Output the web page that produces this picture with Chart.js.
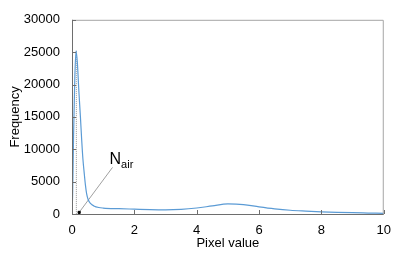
<!DOCTYPE html>
<html><head><meta charset="utf-8">
<script src="https://cdn.jsdelivr.net/npm/chart.js@4/dist/chart.umd.min.js"></script>
<style>html,body{margin:0;padding:0;background:#fff}</style>
</head><body><canvas id="c" width="400" height="261"></canvas>
<script>
const pixelValues = [0,0.02,0.05,0.09,0.13,0.17,0.22,0.27,0.31,0.35,0.39,0.43,0.47,0.52,0.6,0.7,0.86,1.0,1.5,2,2.5,3,3.5,4,4.5,5,5.5,6,6.5,7,7.5,8,8.5,9,9.5,10];
const frequency = [0,3000,12000,21000,25200,23500,19000,15000,11500,8500,6400,4500,3100,2200,1600,1250,1000,920,820,750,680,650,720,930,1250,1550,1450,1100,800,580,450,340,260,200,150,100];
const xTicks = [0,2,4,6,8,10];
const yTicks = [0,5000,10000,15000,20000,25000,30000];
const peakX = 0.14, peakY = 25200;
const nairPoint = [0.23, 250];
const nairLineEnd = [1.3, 7200];
const nairLabel = ['N','air'];

const font = "'Liberation Sans', Arial, sans-serif";

const decor = {
  id:'decor',
  afterDraw(chart){
    const {ctx, chartArea:a, scales:{x,y}} = chart;
    ctx.save();
    ctx.strokeStyle = '#a6a6a6'; ctx.lineWidth = 1;
    ctx.beginPath(); ctx.moveTo(a.left, a.top+0.5); ctx.lineTo(a.right-0.5, a.top+0.5); ctx.lineTo(a.right-0.5, a.bottom); ctx.stroke();
    ctx.strokeStyle = '#6e6e6e';
    ctx.beginPath(); ctx.moveTo(a.left+0.5, a.top); ctx.lineTo(a.left+0.5, a.bottom+0.5); ctx.lineTo(a.right, a.bottom+0.5); ctx.stroke();
    ctx.beginPath();
    yTicks.forEach(v=>{const py=Math.round(y.getPixelForValue(v))+0.5; ctx.moveTo(a.left, py); ctx.lineTo(a.left+4, py);});
    xTicks.forEach(v=>{const px=Math.round(x.getPixelForValue(v))+0.5; ctx.moveTo(px, a.bottom); ctx.lineTo(px, a.bottom-4);});
    ctx.stroke();
    const tx = x.getPixelForValue(nairLineEnd[0]) - 3;
    const ty = y.getPixelForValue(nairLineEnd[1]) - 3;
    ctx.fillStyle = '#000';
    ctx.font = '16px ' + font;
    ctx.textBaseline = 'alphabetic';
    ctx.fillText(nairLabel[0], tx, ty);
    const w = ctx.measureText(nairLabel[0]).width;
    ctx.font = '11px ' + font;
    ctx.fillText(nairLabel[1], tx + w, ty + 4);
    ctx.restore();
  }
};

new Chart(document.getElementById('c'), {
  type:'line',
  data:{datasets:[
    {data: pixelValues.map((v,i)=>({x:v,y:frequency[i]})), borderColor:'#5b9bd5', borderWidth:1.2, pointRadius:0, cubicInterpolationMode:'monotone', fill:false},
    {data:[{x:peakX,y:peakY},{x:peakX,y:0}], borderColor:'#999', borderWidth:1, borderDash:[1,1], pointRadius:0},
    {data:[{x:nairPoint[0],y:nairPoint[1]},{x:nairLineEnd[0],y:nairLineEnd[1]}], borderColor:'#a0a0a0', borderWidth:1, pointRadius:[1.5,0], pointStyle:'rect', pointBackgroundColor:'#000', pointBorderColor:'#000'}
  ]},
  options:{
    responsive:false, animation:false, devicePixelRatio:1,
    layout:{padding:{top:10,right:14,left:0,bottom:0}},
    plugins:{legend:{display:false}, tooltip:{enabled:false}},
    scales:{
      x:{type:'linear', min:0, max:10,
        afterBuildTicks(s){s.ticks = xTicks.map(v=>({value:v}));},
        afterFit(s){s.height = 47;},
        grid:{display:false, drawTicks:false}, border:{display:false},
        ticks:{color:'#000', font:{family:font, size:13}, padding:9, maxRotation:0},
        title:{display:true, text:'Pixel value', color:'#000', font:{family:font, size:13}, padding:{top:0,bottom:10}}
      },
      y:{min:0, max:30000,
        afterBuildTicks(s){s.ticks = yTicks.map(v=>({value:v}));},
        afterFit(s){s.width = 72;},
        grid:{display:false, drawTicks:false}, border:{display:false},
        ticks:{color:'#000', font:{family:font, size:13}, padding:12, callback:v=>String(v)},
        title:{display:true, text:'Frequency', color:'#000', font:{family:font, size:13}, padding:{top:8,bottom:0}}
      }
    }
  },
  plugins:[decor]
});
</script>
</body></html>
